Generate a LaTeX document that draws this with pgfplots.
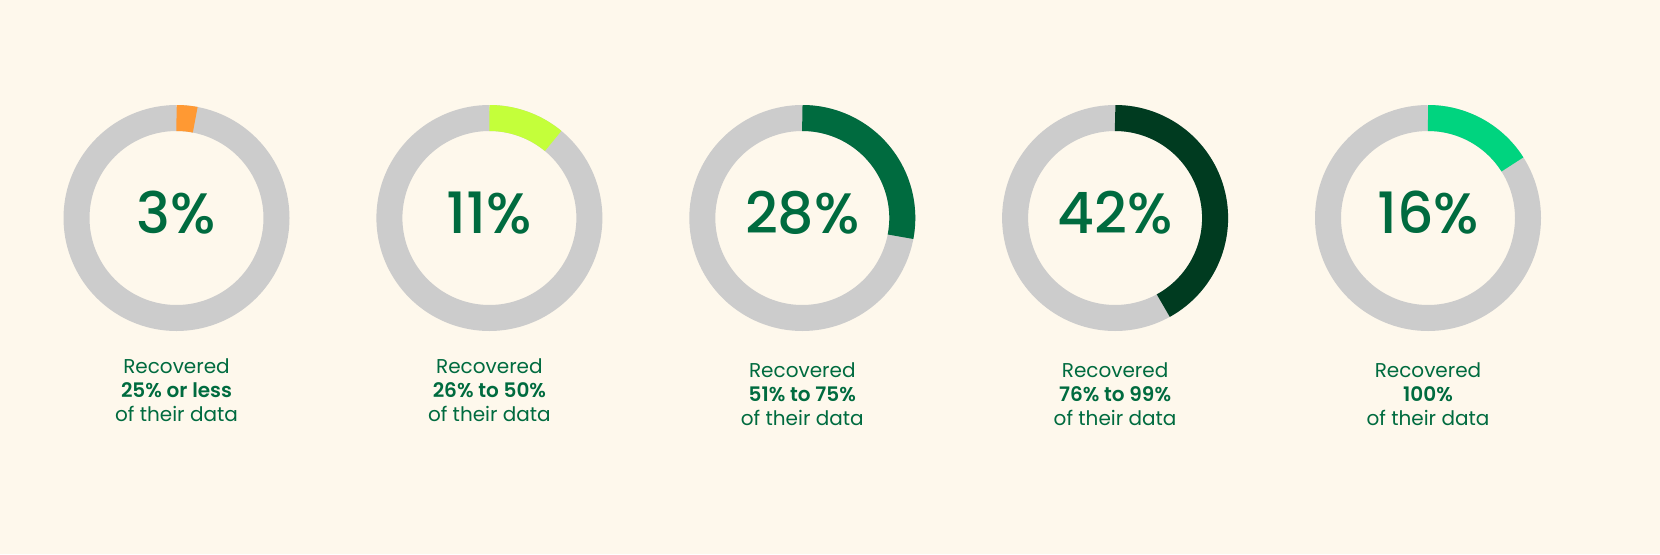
\documentclass[border=0pt]{standalone}
\usepackage{fontspec}
\usepackage{pgfplots}
\pgfplotsset{compat=1.18}
\setmainfont{Poppins}[BoldFont={* SemiBold}]
\newfontfamily\numfont{Poppins Medium}[Numbers=Monospaced]

\definecolor{bg}{HTML}{FEF8EC}
\definecolor{ringgray}{HTML}{CCCCCC}
\definecolor{txtgreen}{HTML}{006B3F}
\definecolor{cOrange}{HTML}{FF9933}
\definecolor{cLime}{HTML}{C4FF3A}
\definecolor{cGreen}{HTML}{006B3F}
\definecolor{cDark}{HTML}{003B20}
\definecolor{cMint}{HTML}{00D47F}

% #1 centre x, #2 share in percent, #3 colour, #4 label y shift, #5 bold line
\newcommand{\donut}[5]{%
  \addplot[ringgray, line width=13pt, line cap=butt, domain=0:100, samples=145]
    ({#1+100*sin(3.6*x)}, {336+100*cos(3.6*x)});
  \addplot[#3, line width=13pt, line cap=butt, domain=0:#2, samples=60]
    ({#1+100*sin(3.6*x)}, {336+100*cos(3.6*x)});
  \node[anchor=base, txtgreen, font=\numfont\fontsize{28.5}{30}\selectfont]
    at (axis cs:#1,321) {#2\%};
  \node[anchor=base, txtgreen, font=\fontsize{10}{12}\selectfont]
    at (axis cs:#1,181-#4) {Recovered};
  \node[anchor=base, txtgreen, font=\fontsize{10}{12}\selectfont\bfseries]
    at (axis cs:#1,157-#4) {#5};
  \node[anchor=base, txtgreen, font=\fontsize{10}{12}\selectfont]
    at (axis cs:#1,133-#4) {of their data};
}

\begin{document}
\begin{tikzpicture}
\fill[bg] (0,0) rectangle (830pt,277pt);
\begin{axis}[
    at={(0,0)}, anchor=south west,
    width=830pt, height=277pt, scale only axis,
    xmin=0, xmax=1660, ymin=0, ymax=554,
    hide axis, clip=false,
]
\donut{176.5}{3}{cOrange}{0}{25\% or less}
\donut{489.4}{11}{cLime}{0}{26\% to 50\%}
\donut{802.3}{28}{cGreen}{4}{51\% to 75\%}
\donut{1115.1}{42}{cDark}{4}{76\% to 99\%}
\donut{1428}{16}{cMint}{4}{100\%}
\end{axis}
\end{tikzpicture}
\end{document}
